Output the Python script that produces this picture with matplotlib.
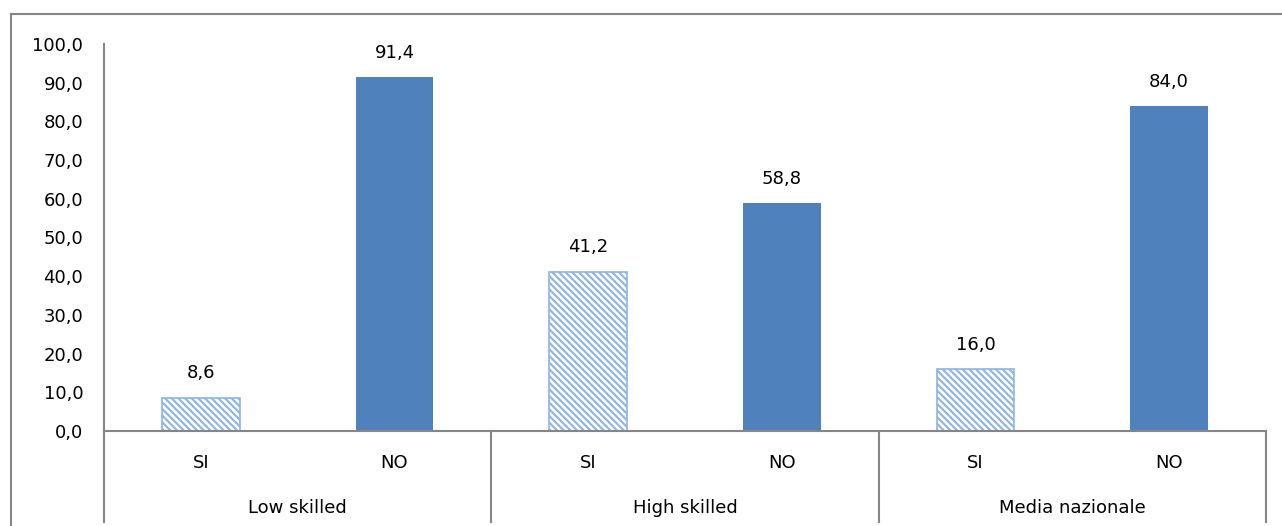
import matplotlib
matplotlib.use("Agg")
import matplotlib.pyplot as plt
from matplotlib.lines import Line2D

groups = ["Low skilled", "High skilled", "Media nazionale"]
answers = ["SI", "NO"]
si_values = [8.6, 41.2, 16.0]
no_values = [91.4, 58.8, 84.0]
y_ticks = [0, 10, 20, 30, 40, 50, 60, 70, 80, 90, 100]

W, H = 1282, 526
GRAY = "#868686"
LIGHT = "#8DB4E2"
BLUE = "#4F81BD"
FS = 13

plt.rcParams["font.family"] = ["DejaVu Sans"]
plt.rcParams["hatch.linewidth"] = 1.5


def fmt(v):
    return f"{v:.1f}".replace(".", ",")


fig = plt.figure(figsize=(W / 100, H / 100), dpi=100)
ax = fig.add_axes([104 / W, (H - 431) / H, (1266 - 104) / W, (431 - 44) / H])

n = len(groups)
xs_si = [g * 2 + 0.5 for g in range(n)]
xs_no = [g * 2 + 1.5 for g in range(n)]
bw = 0.4

bars_si = ax.bar(xs_si, si_values, width=bw, color="white", edgecolor=LIGHT,
                 hatch="\\" * 5, linewidth=1.2)
bars_no = ax.bar(xs_no, no_values, width=bw, color=BLUE, linewidth=0)

for b, v in list(zip(bars_si, si_values)) + list(zip(bars_no, no_values)):
    ax.annotate(fmt(v), (b.get_x() + b.get_width() / 2, v), xytext=(0, 11),
                textcoords="offset points", ha="center", va="bottom",
                fontsize=FS)

ax.set_xlim(0, 2 * n)
ax.set_ylim(0, 100)
ax.set_yticks(y_ticks)
ax.set_yticklabels([fmt(t) for t in y_ticks], fontsize=FS)
ax.tick_params(axis="y", length=0, pad=15)
ax.set_xticks([])

for side in ["top", "right"]:
    ax.spines[side].set_visible(False)
for side in ["left", "bottom"]:
    ax.spines[side].set_color(GRAY)
    ax.spines[side].set_linewidth(1.5)

# two-level category axis below the bars
ax_h = 431 - 44
sep_bottom = -(522 - 431) / ax_h
for g in range(n + 1):
    ax.add_line(Line2D([g * 2, g * 2], [0, sep_bottom],
                       transform=ax.get_xaxis_transform(), color=GRAY,
                       lw=1.5, clip_on=False))
for g in range(n):
    for k, a in enumerate(answers):
        ax.text(g * 2 + 0.5 + k, -(463 - 431) / ax_h, a, ha="center",
                va="center", fontsize=FS, transform=ax.get_xaxis_transform())
    ax.text(g * 2 + 1, -(508 - 431) / ax_h, groups[g], ha="center",
            va="center", fontsize=FS, transform=ax.get_xaxis_transform())

# chart-area frame
fig.add_artist(Line2D([11 / W, 11 / W], [0, 1 - 14 / H], color=GRAY, lw=1.5))
fig.add_artist(Line2D([11 / W, 1], [1 - 14 / H, 1 - 14 / H], color=GRAY, lw=1.5))

fig.savefig("out.png", dpi=100)
